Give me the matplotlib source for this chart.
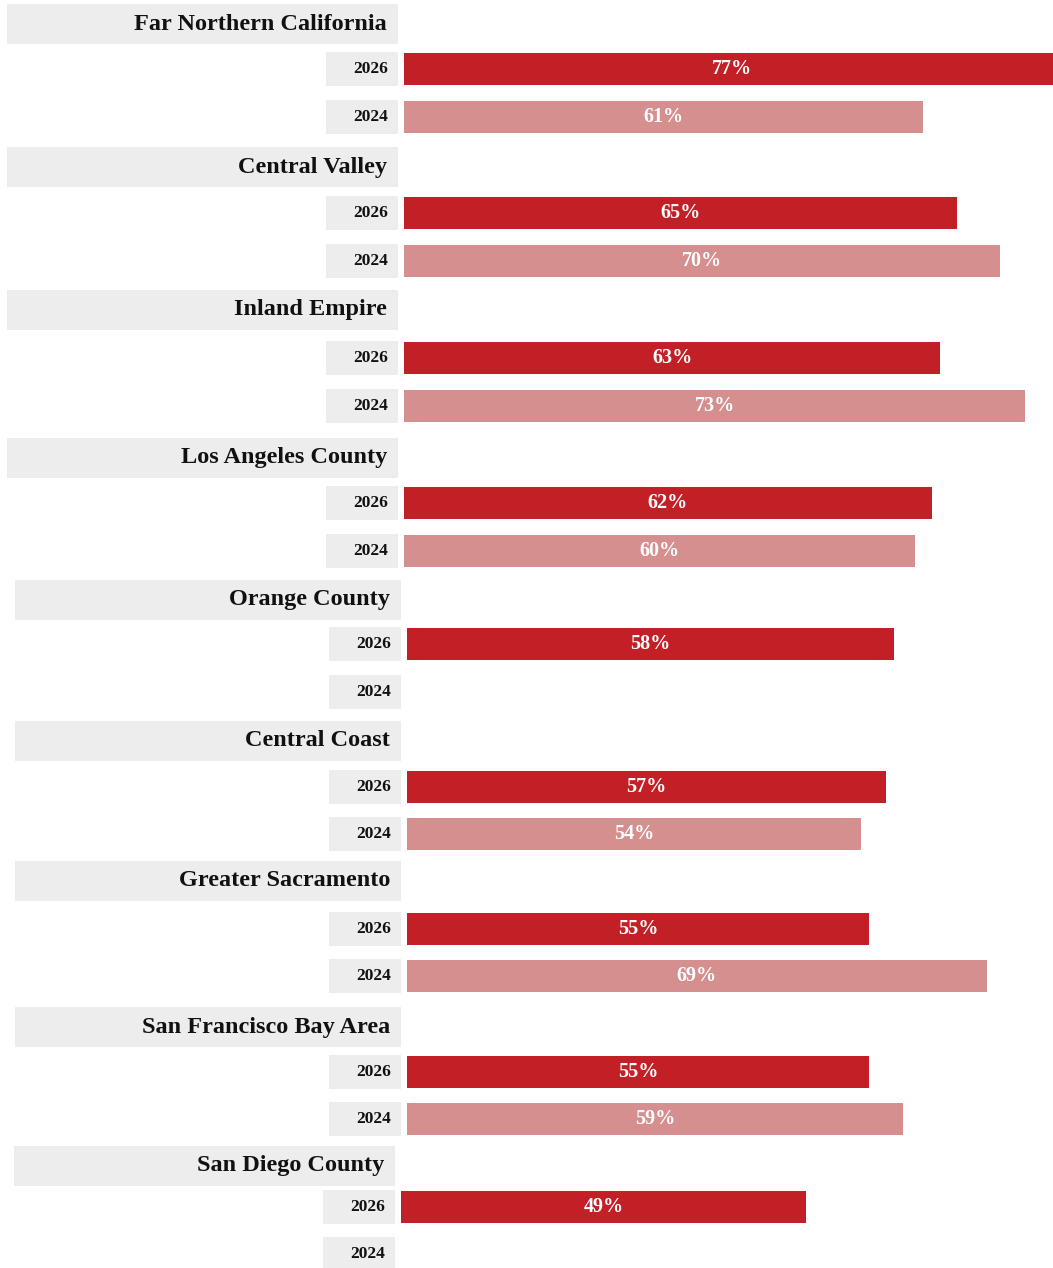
import numpy as np
import matplotlib.pyplot as plt

# data
regions = ['Far Northern California', 'Central Valley', 'Inland Empire',
           'Los Angeles County', 'Orange County', 'Central Coast',
           'Greater Sacramento', 'San Francisco Bay Area', 'San Diego County']
years = ['2026', '2024']
pct_2026 = [77, 65, 63, 62, 58, 57, 55, 55, 49]
pct_2024 = [61, 70, 73, 60, np.nan, 54, 69, 59, np.nan]

dark_red = '#C21F26'
light_red = '#D48F8E'
box_grey = '#EDEDED'
font = 'Liberation Serif'

W, H = 1053, 1268
fig = plt.figure(figsize=(W / 100, H / 100), dpi=100)

# vertical centres (pixels from top) of header / 2026 / 2024 rows per region
row_y = [(24, 69, 117), (167, 213, 261), (310, 358, 406), (458, 503, 551),
         (600, 644, 692), (741, 787, 834), (881, 929, 976), (1027, 1072, 1119),
         (1166, 1207, 1254)]

# the picture is stitched from three slightly different pieces:
# (regions, header box left, box right, bar start px, px per percent)
pieces = [(range(0, 4), 7, 398, 404, 8.51),
          (range(4, 8), 15, 401, 407, 8.40),
          (range(8, 9), 14, 395, 401, 8.27)]

for idx, box_l, box_r, x0, scale in pieces:
    axl = fig.add_axes([0, 0, 1, 1])
    axl.set_xlim(0, W)
    axl.set_ylim(H, 0)
    axl.axis('off')
    axl.patch.set_alpha(0)

    axr = fig.add_axes([x0 / W, 0, (W - x0) / W, 1])
    axr.set_xlim(0, (W - x0) / scale)
    axr.set_ylim(H, 0)
    axr.axis('off')
    axr.patch.set_alpha(0)

    for i in idx:
        yh = row_y[i][0]
        axl.barh(yh, box_r - box_l, left=box_l, height=40, color=box_grey)
        axl.text(box_r - 11, yh, regions[i], ha='right', va='center',
                 fontsize=17.5, fontweight='bold', family=font, color='#111111')
        for j, (yr, vals, col) in enumerate(zip(years, [pct_2026, pct_2024],
                                                 [dark_red, light_red])):
            y = row_y[i][j + 1]
            axl.barh(y, 72, left=box_r - 72, height=34, color=box_grey)
            axl.text(box_r - 10, y, yr, ha='right', va='center', fontsize=12.5,
                     fontweight='bold', family=font, color='#111111')
            v = vals[i]
            if np.isnan(v):
                continue
            axr.barh(y, v, height=32, color=col)
            axr.text(v / 2, y, f'{v:.0f}%', ha='center', va='center',
                     fontsize=14.5, fontweight='bold', family=font, color='white')

plt.savefig('out.png', dpi=100)
